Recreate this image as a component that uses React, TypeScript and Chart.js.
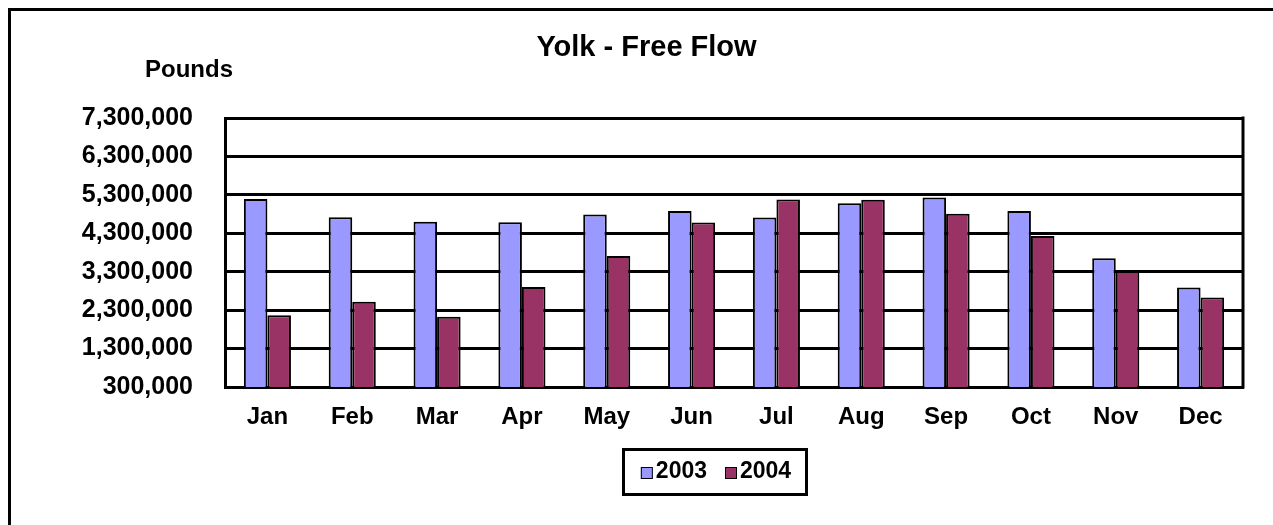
import React, { useEffect, useRef } from 'react';
import { Chart, registerables } from 'chart.js';

Chart.register(...registerables);

const months = ['Jan', 'Feb', 'Mar', 'Apr', 'May', 'Jun', 'Jul', 'Aug', 'Sep', 'Oct', 'Nov', 'Dec'];
const values2003 = [5190000, 4720000, 4600000, 4590000, 4790000, 4880000, 4710000, 5080000, 5230000, 4880000, 3650000, 2890000];
const values2004 = [2170000, 2520000, 2130000, 2900000, 3710000, 4580000, 5180000, 5170000, 4810000, 4230000, 3320000, 2630000];
const seriesLabels = ['2003', '2004'];
const seriesColors = ['#9999FF', '#993366'];
const yMin = 300000;
const yMax = 7300000;
const yStep = 1000000;
const chartTitle = 'Yolk - Free Flow';
const yAxisLabel = 'Pounds';

const FONT = '"Liberation Sans", Arial, Helvetica, sans-serif';

const decorPlugin = {
  id: 'decor',
  afterDraw(chart: any) {
    const { ctx, chartArea } = chart;
    ctx.save();
    // right border of the plot area
    ctx.strokeStyle = '#000';
    ctx.lineWidth = 3;
    ctx.beginPath();
    ctx.moveTo(chartArea.right, chartArea.top - 1.5);
    ctx.lineTo(chartArea.right, chartArea.bottom + 1.5);
    ctx.stroke();

    // axis unit label
    ctx.fillStyle = '#000';
    ctx.font = `bold 24px ${FONT}`;
    ctx.textAlign = 'center';
    ctx.textBaseline = 'middle';
    ctx.fillText(yAxisLabel, 189, 70);

    // legend
    const ds = chart.data.datasets;
    ctx.font = `bold 23px ${FONT}`;
    const sq = 12;
    const gapBoxText = 3;
    const gapItems = 18;
    const widths = ds.map((d: any) => ctx.measureText(d.label).width);
    let total = 0;
    widths.forEach((w: number, i: number) => {
      total += sq + gapBoxText + w + (i < widths.length - 1 ? gapItems : 0);
    });
    const cx = 716;
    const cy = 472;
    let x = cx - total / 2;
    ctx.lineWidth = 3;
    ctx.strokeStyle = '#000';
    ctx.strokeRect(623.5, 449.5, 183, 45);
    ds.forEach((d: any, i: number) => {
      ctx.fillStyle = d.backgroundColor;
      ctx.fillRect(x, cy - sq / 2 + 1, sq, sq);
      ctx.lineWidth = 1;
      ctx.strokeStyle = '#000';
      ctx.strokeRect(x + 0.5, cy - sq / 2 + 1.5, sq - 1, sq - 1);
      ctx.fillStyle = '#000';
      ctx.textAlign = 'left';
      ctx.textBaseline = 'middle';
      ctx.fillText(d.label, x + sq + gapBoxText, cy);
      x += sq + gapBoxText + widths[i] + gapItems;
    });
    ctx.restore();
  },
};

export default function App() {
  const ref = useRef<HTMLCanvasElement | null>(null);

  useEffect(() => {
    document.documentElement.style.overflow = 'hidden';
    document.body.style.overflow = 'hidden';
    const canvas = ref.current;
    if (!canvas) return;
    Chart.defaults.color = '#000';
    const chart = new Chart(canvas, {
      type: 'bar',
      data: {
        labels: months,
        datasets: [
          {
            label: seriesLabels[0],
            data: values2003,
            backgroundColor: seriesColors[0],
            borderColor: '#000',
            borderWidth: 2,
            categoryPercentage: 0.555,
            barPercentage: 1,
          },
          {
            label: seriesLabels[1],
            data: values2004,
            backgroundColor: seriesColors[1],
            borderColor: '#000',
            borderWidth: 2,
            categoryPercentage: 0.555,
            barPercentage: 1,
          },
        ],
      },
      options: {
        responsive: false,
        animation: false,
        events: [],
        layout: { padding: { left: 50, right: 30, top: 0, bottom: 78 } },
        plugins: {
          legend: { display: false },
          tooltip: { enabled: false },
          title: {
            display: true,
            text: chartTitle,
            color: '#000',
            font: { family: FONT, size: 29, weight: 'bold', lineHeight: 1.2 },
            padding: { top: 31, bottom: 52.2 },
          },
        },
        scales: {
          x: {
            grid: { display: false, drawTicks: false },
            border: { display: true, color: '#000', width: 3 },
            ticks: { color: '#000', padding: 16, font: { family: FONT, size: 24, weight: 'bold' } },
            afterFit: (s: any) => {
              s.height = 60;
            },
          },
          y: {
            min: yMin,
            max: yMax,
            ticks: {
              stepSize: yStep,
              color: '#000',
              padding: 32,
              font: { family: FONT, size: 25, weight: 'bold' },
              callback: (v: any) => Number(v).toLocaleString('en-US'),
            },
            grid: { color: '#000', lineWidth: 3, drawTicks: false },
            border: { display: true, color: '#000', width: 3 },
            afterFit: (s: any) => {
              s.width = 175;
            },
          },
        },
      },
      plugins: [decorPlugin],
    });
    return () => chart.destroy();
  }, []);

  return (
    <div style={{ position: 'fixed', left: 0, top: 0, width: 1273, height: 525, overflow: 'hidden', background: '#fff' }}>
      <div
        style={{
          position: 'absolute',
          left: 8,
          top: 8,
          width: 1400,
          height: 700,
          borderTop: '3px solid #000',
          borderLeft: '3px solid #000',
          boxSizing: 'border-box',
        }}
      />
      <canvas ref={ref} width={1273} height={525} style={{ position: 'absolute', left: 0, top: 0, width: 1273, height: 525 }} />
    </div>
  );
}
